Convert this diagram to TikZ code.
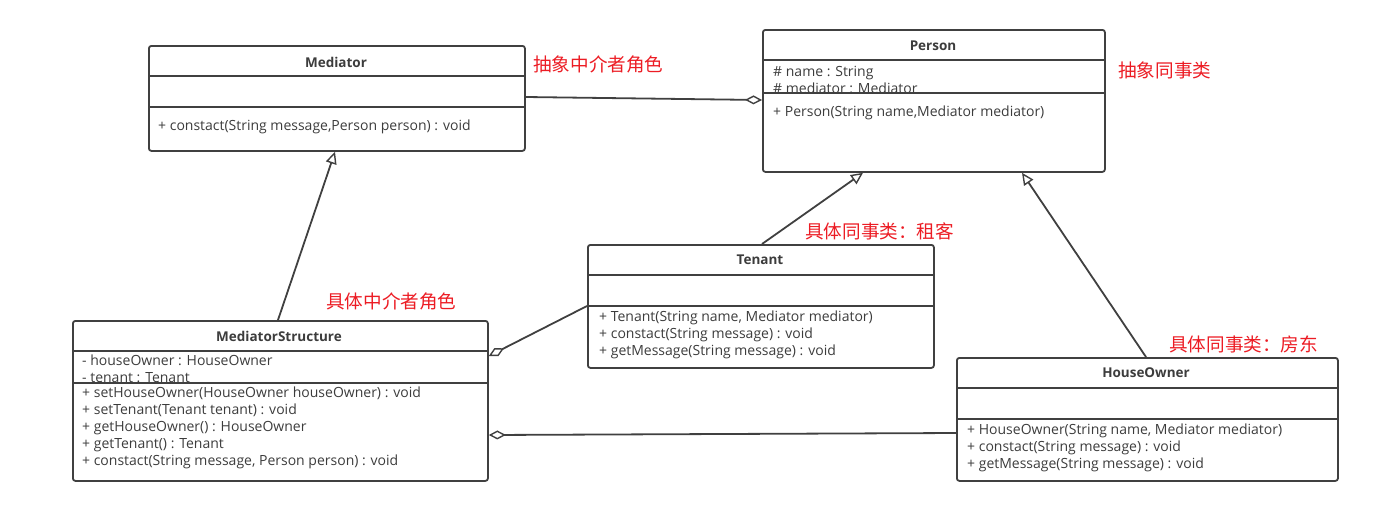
\documentclass[tikz,border=0pt]{standalone}
\usepackage{fontspec}
\setmainfont{Open Sans}
\newfontfamily\cjk{Noto Sans CJK SC}
\usetikzlibrary{arrows.meta}
\definecolor{umlline}{RGB}{64,64,64}
\definecolor{umltext}{RGB}{60,60,60}
\definecolor{notered}{RGB}{236,28,36}
\tikzset{
	cls/.style={draw=umlline, line width=1.8pt, rounded corners=2.5pt, anchor=north west, inner sep=0pt},
	divider/.style={draw=umlline, line width=1.6pt},
	clstitle/.style={font=\fontsize{13.5}{15}\selectfont\bfseries, text=umltext, inner sep=0pt},
	members/.style={font=\fontsize{14}{16.9}\selectfont, text=umltext, align=left, anchor=north west, inner sep=0pt},
	note/.style={font=\cjk\fontsize{18.6}{20}\selectfont, text=notered, anchor=west, inner sep=0pt},
	inherit/.style={draw=umlline, line width=1.8pt, -{Triangle[open, length=12pt, width=11pt, line width=1.4pt]}},
	aggreg/.style={draw=umlline, line width=1.8pt, -{Diamond[open, length=17pt, width=9pt, line width=1.4pt]}}
}

\begin{document}
\begin{tikzpicture}[x=1pt, y=-1pt]
		\useasboundingbox (0,0) rectangle (1396,512);
		% abstract mediator
		\node[cls, minimum width=376pt, minimum height=105pt] (med) at (148,45) {};
		\draw[divider] ([yshift=-31pt]med.north west) -- ([yshift=-31pt]med.north east);
		\draw[divider] ([yshift=-62pt]med.north west) -- ([yshift=-62pt]med.north east);
		\node[clstitle] (medT) at (336,62) {Mediator};
		\node[members] (medM) at (158,120) {+ constact(String message,Person person) : void};
		\node[note] (medN) at (533,64) {抽象中介者角色};
		% abstract colleague
		\node[cls, minimum width=342pt, minimum height=142pt] (per) at (762,29) {};
		\draw[divider] ([yshift=-31pt]per.north west) -- ([yshift=-31pt]per.north east);
		\node[clstitle] (perT) at (933,46) {Person};
		\node[members] (perA) at (773,66) {\# name : String\\\# mediator : Mediator};
		\draw[divider] ([yshift=-64pt]per.north west) -- ([yshift=-64pt]per.north east);
		\node[members] (perM) at (773,106) {+ Person(String name,Mediator mediator)};
		\node[note] (perN) at (1118,70) {抽象同事类};
		% tenant
		\node[cls, minimum width=346pt, minimum height=123pt] (ten) at (587,244) {};
		\draw[divider] ([yshift=-31pt]ten.north west) -- ([yshift=-31pt]ten.north east);
		\draw[divider] ([yshift=-62pt]ten.north west) -- ([yshift=-62pt]ten.north east);
		\node[clstitle] (tenT) at (760,260) {Tenant};
		\node[members] (tenM) at (599,311) {+ Tenant(String name, Mediator mediator)\\+ constact(String message) : void\\+ getMessage(String message) : void};
		\node[note] (tenN) at (805,231) {具体同事类：租客};
		% concrete mediator
		\node[cls, minimum width=415pt, minimum height=160pt] (ms) at (72,320) {};
		\draw[divider] ([yshift=-31pt]ms.north west) -- ([yshift=-31pt]ms.north east);
		\node[clstitle] (msT) at (279,336) {MediatorStructure};
		\node[members] (msA) at (82,355) {- houseOwner : HouseOwner\\- tenant : Tenant};
		\draw[divider] ([yshift=-63pt]ms.north west) -- ([yshift=-63pt]ms.north east);
		\node[members] (msM) at (82,387) {+ setHouseOwner(HouseOwner houseOwner) : void\\+ setTenant(Tenant tenant) : void\\+ getHouseOwner() : HouseOwner\\+ getTenant() : Tenant\\+ constact(String message, Person person) : void};
		\node[note] (msN) at (326,301) {具体中介者角色};
		% house owner
		\node[cls, minimum width=381pt, minimum height=123pt] (ho) at (956,357) {};
		\draw[divider] ([yshift=-31pt]ho.north west) -- ([yshift=-31pt]ho.north east);
		\draw[divider] ([yshift=-62pt]ho.north west) -- ([yshift=-62pt]ho.north east);
		\node[clstitle] (hoT) at (1146,373) {HouseOwner};
		\node[members] (hoM) at (967,424) {+ HouseOwner(String name, Mediator mediator)\\+ constact(String message) : void\\+ getMessage(String message) : void};
		\node[note] (hoN) at (1169,344) {具体同事类：房东};
		% relations
		\draw[inherit] ([xshift=206pt]ms.north west) -- ([xshift=187pt]med.south west);
		\draw[inherit] ([xshift=175pt]ten.north west) -- ([xshift=101pt]per.south west);
		\draw[inherit] ([xshift=190pt]ho.north west) -- ([xshift=260pt]per.south west);
		\draw[aggreg] ([yshift=-52pt]med.north east) -- ([yshift=-71pt]per.north west);
		\draw[aggreg] ([yshift=-62pt]ten.north west) -- ([yshift=-36pt]ms.north east);
		\draw[aggreg] ([yshift=-76pt]ho.north west) -- ([yshift=-115pt]ms.north east);
	\end{tikzpicture}
\end{document}
